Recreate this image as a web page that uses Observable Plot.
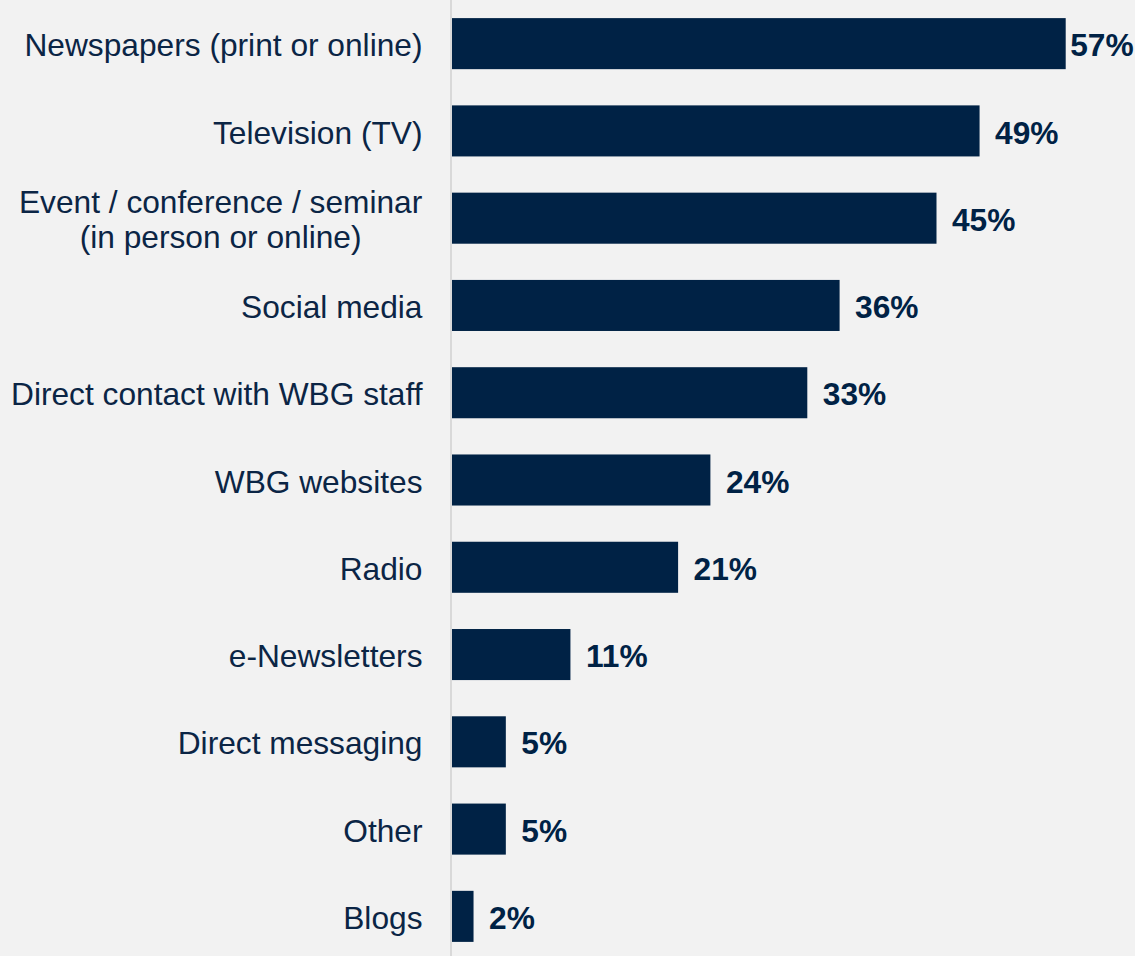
<!DOCTYPE html>
<html>
<head>
<meta charset="utf-8">
<script src="https://cdn.jsdelivr.net/npm/d3@7"></script>
<script src="https://cdn.jsdelivr.net/npm/@observablehq/plot@0.6"></script>
<style>
  html, body { margin: 0; padding: 0; background: #f2f2f2; }
  #chart svg { display: block; }
</style>
</head>
<body>
<div id="chart"></div>
<script>
const categories = [
  "Newspapers (print or online)",
  "Television (TV)",
  "Event / conference / seminar\n(in person or online)",
  "Social media",
  "Direct contact with WBG staff",
  "WBG websites",
  "Radio",
  "e-Newsletters",
  "Direct messaging",
  "Other",
  "Blogs"
];
const values = [57, 49, 45, 36, 33, 24, 21, 11, 5, 5, 2];

const data = categories.map((label, i) => ({label, value: values[i]}));
const maxValue = d3.max(values);

const barColor = "#002245";
const textColor = "#0b2545";

const chart = Plot.plot({
  width: 1135,
  height: 956,
  marginLeft: 452,
  marginRight: 37,
  marginTop: 0,
  marginBottom: 0,
  style: {
    background: "#f2f2f2",
    fontFamily: "'Liberation Sans', Arial, sans-serif",
    fontSize: "31.7px",
    overflow: "visible"
  },
  x: {domain: [0, 60], axis: null},
  y: {domain: categories, range: [0, 960], paddingInner: 0.415, paddingOuter: 0.2075, round: false, axis: null},
  marks: [
    Plot.barX(data, {x: "value", y: "label", fill: barColor}),
    Plot.ruleX([0], {stroke: "#d9d9d9", strokeWidth: 2, dx: -1.5}),
    Plot.text(data, {
      x: 0, y: "label", text: "label", textAnchor: "end", dx: -30, dy: 1,
      lineHeight: 1.1, fill: textColor
    }),
    Plot.text(data.filter(d => d.value < maxValue), {
      x: "value", y: "label", text: d => d.value + "%", textAnchor: "start",
      dx: 15, dy: 2, fill: barColor, fontWeight: "bold"
    }),
    Plot.text(data.filter(d => d.value === maxValue), {
      x: "value", y: "label", text: d => d.value + "%", textAnchor: "start",
      dx: 4, dy: 2, fill: barColor, fontWeight: "bold"
    })
  ]
});

document.getElementById("chart").appendChild(chart);

// center-align the lines of multi-line category labels (as in the reference)
chart.querySelectorAll("text").forEach(t => {
  const spans = t.querySelectorAll("tspan");
  if (spans.length > 1) {
    const w = t.getBBox().width;
    t.setAttribute("text-anchor", "middle");
    spans.forEach(s => s.setAttribute("x", -w / 2));
  }
});
</script>
</body>
</html>
